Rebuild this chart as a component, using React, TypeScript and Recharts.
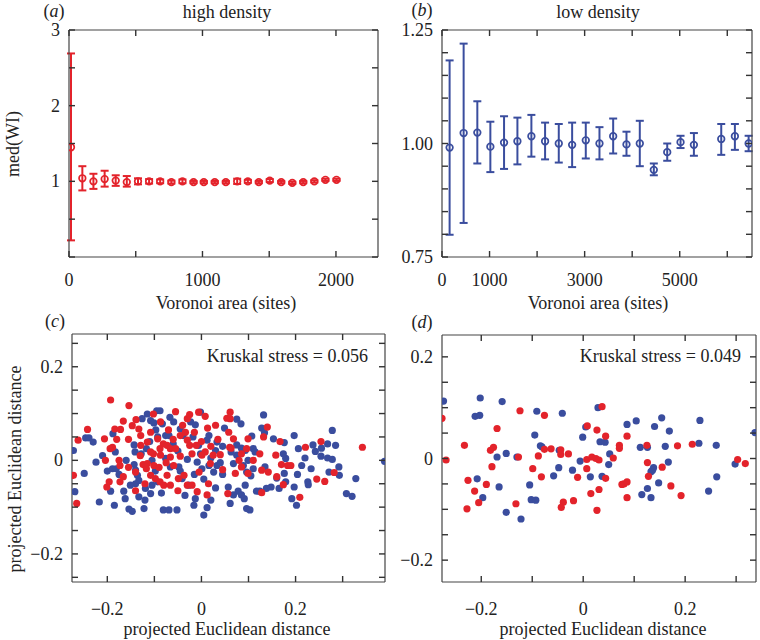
import { ScatterChart, Scatter, XAxis, YAxis, ErrorBar } from 'recharts'

const FONT = '"Liberation Serif", "Times New Roman", serif'
const RED = '#e3232b'
const BLUE = '#3a4d9e'
const FRAME = '#444'
const INK = '#222'

// (a) high density: median WI per Voronoi area bin
const aArea = [15, 100, 183, 267, 350, 433, 517, 600, 683, 767, 850, 933, 1010, 1092, 1175, 1260, 1340, 1422, 1504, 1590, 1673, 1755, 1838, 1921, 2004]
const aMed = [1.45, 1.04, 1.0, 1.03, 1.01, 0.99, 1.0, 1.0, 1.0, 0.99, 1.0, 0.99, 0.99, 0.99, 0.99, 1.0, 1.0, 0.99, 1.01, 0.99, 0.98, 0.99, 1.0, 1.02, 1.02]
const aLow = [0.22, 0.88, 0.9, 0.93, 0.94, 0.93, 0.96, 0.97, 0.975, 0.97, 0.975, 0.975, 0.975, 0.975, 0.975, 0.965, 0.98, 0.975, 0.99, 0.975, 0.965, 0.975, 0.985, 1.005, 1.005]
const aHigh = [2.69, 1.2, 1.1, 1.14, 1.08, 1.07, 1.04, 1.03, 1.025, 1.01, 1.025, 1.005, 1.005, 1.005, 1.005, 1.035, 1.02, 1.005, 1.03, 1.005, 0.995, 1.005, 1.015, 1.035, 1.035]

// (b) low density
const bArea = [160, 455, 743, 1017, 1305, 1586, 1880, 2168, 2456, 2737, 3024, 3312, 3600, 3880, 4160, 4455, 4737, 5017, 5298, 5873, 6160, 6449]
const bMed = [0.991, 1.023, 1.024, 0.993, 1.002, 1.005, 1.016, 1.005, 1.0, 0.997, 1.007, 1.0, 1.016, 0.998, 1.0, 0.942, 0.981, 1.003, 0.997, 1.01, 1.016, 1.0]
const bLow = [0.799, 0.825, 0.956, 0.937, 0.944, 0.954, 0.971, 0.965, 0.958, 0.948, 0.967, 0.965, 0.978, 0.973, 0.95, 0.93, 0.962, 0.99, 0.973, 0.975, 0.986, 0.983]
const bHigh = [1.183, 1.22, 1.093, 1.048, 1.06, 1.057, 1.063, 1.046, 1.043, 1.046, 1.046, 1.036, 1.055, 1.026, 1.05, 0.956, 1.0, 1.017, 1.023, 1.043, 1.043, 1.017]

// (c) high density projection, [x, y]
const cBlue: [number, number][] = [
  [-0.272, 0.021], [-0.269, -0.067], [-0.249, -0.028], [-0.246, 0.048], [-0.239, 0.048], [-0.23, 0.039], [-0.224, -0.004], [-0.217, -0.089],
  [-0.2, -0.023], [-0.193, -0.066], [-0.188, 0.057], [-0.189, -0.018], [-0.183, 0.018], [-0.185, -0.096], [-0.181, -0.018], [-0.165, -0.066],
  [-0.162, -0.082], [-0.154, -0.104], [-0.147, -0.109], [-0.143, 0.033], [-0.141, 0.018], [-0.143, -0.009], [-0.14, -0.021], [-0.136, -0.032],
  [-0.14, -0.05], [-0.133, -0.043], [-0.151, -0.053], [-0.133, -0.078], [-0.126, 0.089], [-0.122, -0.103], [-0.119, -0.06], [-0.115, 0.099],
  [-0.108, 0.085], [-0.101, 0.08], [-0.095, 0.106], [-0.088, 0.106], [-0.093, 0.05], [-0.083, 0.078], [-0.105, 0.0], [-0.098, -0.023],
  [-0.093, -0.046], [-0.105, -0.053], [-0.108, -0.071], [-0.081, -0.106], [-0.069, -0.106], [-0.076, 0.053], [-0.069, 0.053], [-0.076, 0.004],
  [-0.066, -0.014], [-0.067, 0.092], [-0.059, 0.082], [-0.045, 0.067], [-0.039, 0.053], [-0.048, -0.014], [-0.045, -0.023], [-0.041, -0.039],
  [-0.052, -0.106], [-0.027, -0.053], [-0.023, 0.082], [-0.018, 0.05], [-0.013, 0.076], [-0.002, 0.103], [-0.009, -0.004], [-0.002, 0.014],
  [0.001, -0.018], [-0.013, -0.082], [-0.016, -0.096], [0.005, -0.117], [0.012, -0.101], [0.012, 0.043], [0.016, 0.053], [0.033, 0.039],
  [0.03, 0.021], [-0.006, 0.032], [0.03, -0.059], [0.049, 0.069], [0.033, -0.011], [0.026, -0.025], [0.016, -0.011],
  [-0.128, 0.014], [-0.117, 0.025], [-0.11, 0.04], [-0.097, 0.065], [-0.06, 0.035], [-0.05, 0.02], [-0.03, 0.002], [-0.015, -0.03],
  [0.005, -0.04], [0.02, 0.005], [0.04, -0.005], [0.045, 0.03], [-0.085, -0.07], [-0.12, -0.085], [-0.035, -0.075], [0.02, -0.085],
  [-0.175, -0.03], [-0.21, 0.01], [0.045, -0.03], [-0.16, 0.0],
  [0.132, 0.097], [0.075, 0.088], [0.084, 0.078], [0.128, 0.069], [0.134, 0.059], [0.107, 0.052], [0.153, 0.046], [0.197, 0.053],
  [0.176, 0.038], [0.206, 0.025], [0.22, 0.005], [0.237, 0.033], [0.242, 0.019], [0.255, 0.026], [0.268, 0.035], [0.285, 0.032],
  [0.278, 0.064], [0.254, 0.009], [0.268, 0.005], [0.278, 0.002], [0.292, -0.014], [0.293, -0.032], [0.271, -0.025], [0.233, -0.018],
  [0.213, -0.011], [0.204, -0.03], [0.226, -0.046], [0.227, -0.052], [0.197, -0.057], [0.176, -0.028], [0.179, -0.046], [0.16, -0.038],
  [0.148, -0.057], [0.138, -0.06], [0.165, -0.06], [0.117, -0.066], [0.124, -0.066], [0.192, -0.082], [0.202, -0.096], [0.179, 0.004],
  [0.174, 0.014], [0.308, -0.071], [0.32, -0.077], [0.328, -0.039], [0.389, -0.002], [0.105, -0.033], [0.099, 0.0], [0.096, -0.025],
  [0.089, -0.011], [0.093, -0.053], [0.078, -0.066], [0.085, -0.074], [0.061, -0.092], [0.096, -0.103], [0.103, -0.106], [0.091, -0.082],
  [0.11, 0.025], [0.114, 0.018], [0.075, 0.033], [0.085, 0.026], [0.093, 0.021], [0.075, 0.011], [0.063, 0.018], [0.068, -0.007],
  [0.11, -0.018], [0.135, -0.014], [0.057, -0.057], [0.068, -0.074],
]
const cRed: [number, number][] = [
  [-0.193, 0.129], [-0.154, 0.117], [-0.242, 0.066], [-0.262, 0.043], [-0.272, -0.032], [-0.265, -0.092], [-0.206, 0.046], [-0.166, 0.084],
  [-0.184, 0.067], [-0.172, 0.066], [-0.189, 0.028], [-0.194, 0.025], [-0.204, 0.0], [-0.175, 0.0], [-0.201, -0.057], [-0.173, -0.046],
  [-0.166, -0.035], [-0.147, 0.074], [-0.139, 0.087], [-0.133, 0.067], [-0.129, 0.053], [-0.115, 0.039], [-0.108, 0.06], [-0.102, 0.099],
  [-0.087, 0.082], [-0.055, 0.104], [-0.03, 0.089], [-0.025, 0.098], [-0.006, 0.103], [0.008, 0.094], [0.013, 0.069], [0.054, 0.09],
  [0.058, 0.06], [0.06, 0.028], [0.04, 0.012], [0.025, 0.011], [0.008, 0.018], [-0.093, 0.046], [-0.081, 0.035], [-0.088, 0.025],
  [-0.073, 0.032], [-0.066, 0.025], [-0.055, 0.025], [-0.045, 0.053], [-0.034, 0.06], [-0.03, 0.043], [-0.025, 0.032], [-0.02, 0.014],
  [-0.045, 0.009], [-0.066, 0.007], [-0.087, 0.011], [-0.102, 0.014], [-0.124, -0.009], [-0.117, -0.018], [-0.101, -0.011], [-0.108, -0.032],
  [-0.098, -0.039], [-0.088, -0.046], [-0.073, -0.032], [-0.08, -0.053], [-0.066, -0.053], [-0.049, -0.039], [-0.037, -0.032], [-0.03, -0.053],
  [-0.02, -0.053], [-0.009, -0.067], [0.012, -0.074], [0.056, -0.071], [-0.011, 0.032], [0.001, 0.011], [0.019, -0.007], [-0.129, 0.032],
  [-0.115, -0.007], [-0.14, -0.025], [-0.173, -0.011], [-0.196, -0.046], [-0.108, 0.018], [-0.059, -0.011],
  [-0.09, -0.015], [-0.075, -0.005], [-0.06, 0.045], [-0.04, 0.075], [-0.015, 0.06], [0.0, 0.04], [0.02, 0.03], [0.035, 0.045],
  [0.045, -0.02], [-0.005, -0.025], [-0.13, 0.01], [-0.155, 0.045], [-0.18, 0.045], [-0.12, -0.05], [-0.14, -0.065], [-0.05, -0.065],
  [0.015, -0.05], [0.03, 0.075], [-0.07, 0.065], [-0.155, -0.015], [0.08, 0.0], [0.16, -0.035],
  [0.061, 0.103], [0.061, 0.089], [0.14, 0.071], [0.132, 0.05], [0.099, 0.046], [0.068, 0.046], [0.167, 0.04], [0.158, 0.011],
  [0.17, -0.009], [0.183, -0.011], [0.19, -0.011], [0.221, 0.028], [0.254, 0.04], [0.245, -0.04], [0.262, -0.045], [0.282, -0.026],
  [0.342, 0.028], [0.209, -0.079], [0.174, -0.052], [0.142, -0.025], [0.128, -0.069], [0.128, -0.021], [0.11, 0.0], [0.096, 0.025],
  [0.085, 0.014], [0.072, -0.028], [0.085, -0.014], [0.099, -0.028], [0.124, 0.014], [0.063, 0.026],
]

// (d) low density projection, [x, y]
const dBlue: [number, number][] = [
  [-0.274, 0.113], [-0.202, 0.119], [-0.212, 0.083], [-0.203, 0.085], [-0.159, 0.112], [-0.091, 0.093], [-0.041, 0.089], [0.029, 0.1],
  [0.104, 0.074], [0.154, 0.08], [0.229, 0.075], [0.005, 0.062], [0.086, 0.067], [0.14, 0.063], [0.169, 0.054], [0.337, 0.051],
  [-0.095, 0.046], [-0.001, 0.042], [0.033, 0.033], [0.043, 0.032], [0.112, 0.022], [0.126, 0.022], [0.161, 0.024], [0.227, 0.03],
  [0.261, 0.026], [-0.084, 0.025], [-0.081, 0.023], [-0.047, 0.016], [-0.151, 0.01], [-0.13, 0.003], [-0.169, 0.003], [-0.006, -0.005],
  [0.052, 0.009], [0.167, -0.007], [0.298, -0.011], [-0.048, -0.018], [0.05, -0.012], [0.138, -0.018], [0.136, -0.023], [-0.021, -0.023],
  [0.014, -0.036], [0.037, -0.035], [-0.058, -0.034], [0.133, -0.026], [0.262, -0.036], [-0.208, -0.04], [-0.165, -0.056], [-0.105, -0.052],
  [0.148, -0.048], [0.126, -0.059], [-0.197, -0.077], [-0.102, -0.081], [-0.093, -0.082], [0.115, -0.071], [0.133, -0.077], [0.246, -0.064],
  [-0.151, -0.106], [-0.122, -0.119],
]
const dRed: [number, number][] = [
  [-0.277, 0.079], [-0.124, 0.094], [-0.076, 0.085], [0.037, 0.102], [-0.169, 0.059], [0.008, 0.064], [0.027, 0.056], [0.044, 0.044],
  [0.086, 0.044], [0.071, 0.026], [0.071, 0.02], [0.125, 0.026], [0.185, 0.025], [0.214, 0.028], [-0.233, 0.026], [-0.182, 0.016],
  [-0.176, 0.022], [-0.076, 0.018], [-0.063, 0.019], [-0.044, 0.017], [-0.029, 0.009], [-0.127, 0.003], [-0.044, 0.008], [-0.269, -0.003],
  [-0.088, 0.005], [0.007, -0.002], [0.017, 0.003], [0.025, 0.0], [0.031, -0.003], [0.059, 0.001], [0.303, -0.002], [0.318, -0.01],
  [-0.179, -0.016], [0.155, -0.017], [0.007, -0.02], [-0.099, -0.02], [-0.011, -0.037], [0.044, -0.039], [-0.082, -0.036], [0.126, -0.008],
  [0.128, -0.035], [-0.226, -0.043], [-0.19, -0.051], [0.076, -0.051], [0.08, -0.05], [0.086, -0.046], [0.172, -0.054], [-0.213, -0.064],
  [-0.205, -0.087], [-0.132, -0.089], [-0.039, -0.086], [-0.043, -0.096], [-0.019, -0.083], [0.015, -0.069], [0.086, -0.077], [0.192, -0.073],
  [-0.228, -0.099], [0.027, -0.102], [0.031, -0.061],
]

const near = (v: number, t: number) => Math.abs(v - t) < 1e-6
const only = (keep: number[], fmt: (v: number) => string) => (v: number) => (keep.some((k) => near(v, k)) ? fmt(v) : '')
const signed = (v: number) => (near(v, 0) ? '0' : (v < 0 ? '\u2212' : '') + Math.abs(v).toFixed(1))

const withErr = (xs: number[], ys: number[], lo: number[], hi: number[]) =>
  xs.map((x, i) => ({ x, y: ys[i], err: [ys[i] - lo[i], hi[i] - ys[i]] }))
const toPts = (pts: [number, number][]) => pts.map(([x, y]) => ({ x, y }))

// one axis tick: short inward mark plus an optional label outside the box
const boxTick = (side: 'b' | 't' | 'l' | 'r', fmt?: (v: number) => string, gap = 29) => (p: any) => {
  const x = Number(p.x)
  const y = Number(p.y)
  const L = 6
  const w = 4
  // mark drawn as a thin filled rect so it survives any stroke overrides
  const rect =
    side === 'b' ? { x: x - 0.7, y: y - L, width: 1.4, height: L }
    : side === 't' ? { x: x - 0.7, y, width: 1.4, height: L }
    : side === 'l' ? { x, y: y - 0.7, width: L, height: 1.4 }
    : { x: x - L, y: y - 0.7, width: L, height: 1.4 }
  const label = fmt ? fmt(p.payload.value) : ''
  return (
    <g>
      <rect {...rect} fill="#333" stroke="none" data-w={w} />
      {label && side === 'b' && (
        <text x={x} y={y + gap} textAnchor="middle" fill={INK} fontSize={18} fontFamily={FONT}>{label}</text>
      )}
      {label && side === 'l' && (
        <text x={x - 9} y={y + 6} textAnchor="end" fill={INK} fontSize={18} fontFamily={FONT}>{label}</text>
      )}
    </g>
  )
}

function boxAxes(xDomain: number[], yDomain: number[], xTicks: number[], yTicks: number[], xFmt: (v: number) => string, yFmt: (v: number) => string, gap: number) {
  const common = {
    type: 'number' as const,
    allowDataOverflow: true,
    interval: 0 as const,
    tickSize: 0,
    tickMargin: 0,
    tickLine: false,
    axisLine: { stroke: FRAME, strokeWidth: 1.2 },
  }
  return [
    <XAxis key="xb" xAxisId="b" orientation="bottom" dataKey="x" domain={xDomain} ticks={xTicks} tick={boxTick('b', xFmt, gap)} height={40} {...common} />,
    <XAxis key="xt" xAxisId="t" orientation="top" dataKey="x" domain={xDomain} ticks={xTicks} tick={boxTick('t')} height={1} {...common} />,
    <YAxis key="yl" yAxisId="l" orientation="left" dataKey="y" domain={yDomain} ticks={yTicks} tick={boxTick('l', yFmt)} width={50} {...common} />,
    <YAxis key="yr" yAxisId="r" orientation="right" dataKey="y" domain={yDomain} ticks={yTicks} tick={boxTick('r')} width={1} {...common} />,
  ]
}

const ring = (color: string) => (p: any) => <circle cx={p.cx} cy={p.cy} r={3.3} fill="none" stroke={color} strokeWidth={1.7} />
const dot = (color: string) => (p: any) => <circle cx={p.cx} cy={p.cy} r={3.6} fill={color} />

function Note({ x, y, children, align = 'center', rotate = false }: any) {
  const tx = align === 'right' ? '-100%' : '-50%'
  return (
    <div
      style={{
        position: 'absolute',
        left: x,
        top: y,
        transform: `translate(${tx},-50%)${rotate ? ' rotate(-90deg)' : ''}`,
        whiteSpace: 'nowrap',
        fontFamily: FONT,
        fontSize: 18,
        color: INK,
        lineHeight: 1,
      }}
    >
      {children}
    </div>
  )
}

const posStyle = (left: number, top: number) => ({ position: 'absolute' as const, left, top })

const aXd = [0, 2315]
const aYd = [0, 3]
const aXt = [0, 500, 1000, 1500, 2000]
const aYt = [0, 0.5, 1, 1.5, 2, 2.5, 3]
const bXd = [0, 6520]
const bYd = [0.75, 1.25]
const bXt = [0, 1000, 2000, 3000, 4000, 5000, 6000]
const bYt = [0.75, 0.8, 0.85, 0.9, 0.95, 1, 1.05, 1.1, 1.15, 1.2, 1.25]
const cXd = [-0.275, 0.39]
const cYd = [-0.26, 0.27]
const cYt = [-0.25, -0.2, -0.15, -0.1, -0.05, 0, 0.05, 0.1, 0.15, 0.2, 0.25]
const dXd = [-0.277, 0.339]
const dYd = [-0.243, 0.243]
const dYt = [-0.2, -0.15, -0.1, -0.05, 0, 0.05, 0.1, 0.15, 0.2]
const mdsXt = [-0.2, -0.1, 0, 0.1, 0.2, 0.3]

export default function App() {
  const mdsFmt = only([-0.2, 0, 0.2], signed)
  return (
    <div style={{ position: 'absolute', left: 0, top: 0, width: 760, height: 640, background: '#fff', fontFamily: FONT }}>
      <div style={posStyle(0, 0)}>
        <ScatterChart width={380} height={320} margin={{ top: 29, right: 1, left: 19, bottom: 23 }}>
          {boxAxes(aXd, aYd, aXt, aYt, only([0, 1000, 2000], String), only([1, 2, 3], String), 29)}
          <Scatter data={withErr(aArea, aMed, aLow, aHigh)} xAxisId="b" yAxisId="l" shape={ring(RED)} isAnimationActive={false}>
            <ErrorBar dataKey="err" direction="y" width={4} stroke={RED} strokeWidth={2} isAnimationActive={false} />
          </Scatter>
        </ScatterChart>
      </div>

      <div style={posStyle(380, 0)}>
        <ScatterChart width={380} height={320} margin={{ top: 29, right: 7, left: 12, bottom: 23 }}>
          {boxAxes(bXd, bYd, bXt, bYt, only([0, 1000, 3000, 5000], String), only([0.75, 1, 1.25], (v) => v.toFixed(2)), 29)}
          <Scatter data={withErr(bArea, bMed, bLow, bHigh)} xAxisId="b" yAxisId="l" shape={ring(BLUE)} isAnimationActive={false}>
            <ErrorBar dataKey="err" direction="y" width={4} stroke={BLUE} strokeWidth={2} isAnimationActive={false} />
          </Scatter>
        </ScatterChart>
      </div>

      <div style={posStyle(0, 320)}>
        <ScatterChart width={390} height={320} margin={{ top: 13, right: 4, left: 22, bottom: 18 }}>
          {boxAxes(cXd, cYd, mdsXt, cYt, mdsFmt, mdsFmt, 33)}
          <Scatter data={toPts(cBlue)} xAxisId="b" yAxisId="l" shape={dot(BLUE)} isAnimationActive={false} />
          <Scatter data={toPts(cRed)} xAxisId="b" yAxisId="l" shape={dot(RED)} isAnimationActive={false} />
        </ScatterChart>
      </div>

      <div style={posStyle(390, 320)}>
        <ScatterChart width={370} height={320} margin={{ top: 14, right: 3, left: 2, bottom: 18 }}>
          {boxAxes(dXd, dYd, mdsXt, dYt, mdsFmt, mdsFmt, 33)}
          <Scatter data={toPts(dBlue)} xAxisId="b" yAxisId="l" shape={dot(BLUE)} isAnimationActive={false} />
          <Scatter data={toPts(dRed)} xAxisId="b" yAxisId="l" shape={dot(RED)} isAnimationActive={false} />
        </ScatterChart>
      </div>

      <Note x={54} y={11}>(<i>a</i>)</Note>
      <Note x={227} y={12}>high density</Note>
      <Note x={422} y={10}>(<i>b</i>)</Note>
      <Note x={598} y={12}>low density</Note>
      <Note x={13} y={144} rotate>med(WI)</Note>
      <Note x={226} y={303}>Voronoi area (sites)</Note>
      <Note x={598} y={303}>Voronoi area (sites)</Note>

      <Note x={55} y={321}>(<i>c</i>)</Note>
      <Note x={422} y={322}>(<i>d</i>)</Note>
      <Note x={368} y={356} align="right">Kruskal stress = 0.056</Note>
      <Note x={741} y={356} align="right">Kruskal stress = 0.049</Note>
      <Note x={15} y={469} rotate>projected Euclidean distance</Note>
      <Note x={227} y={629}>projected Euclidean distance</Note>
      <Note x={603} y={629}>projected Euclidean distance</Note>
    </div>
  )
}
